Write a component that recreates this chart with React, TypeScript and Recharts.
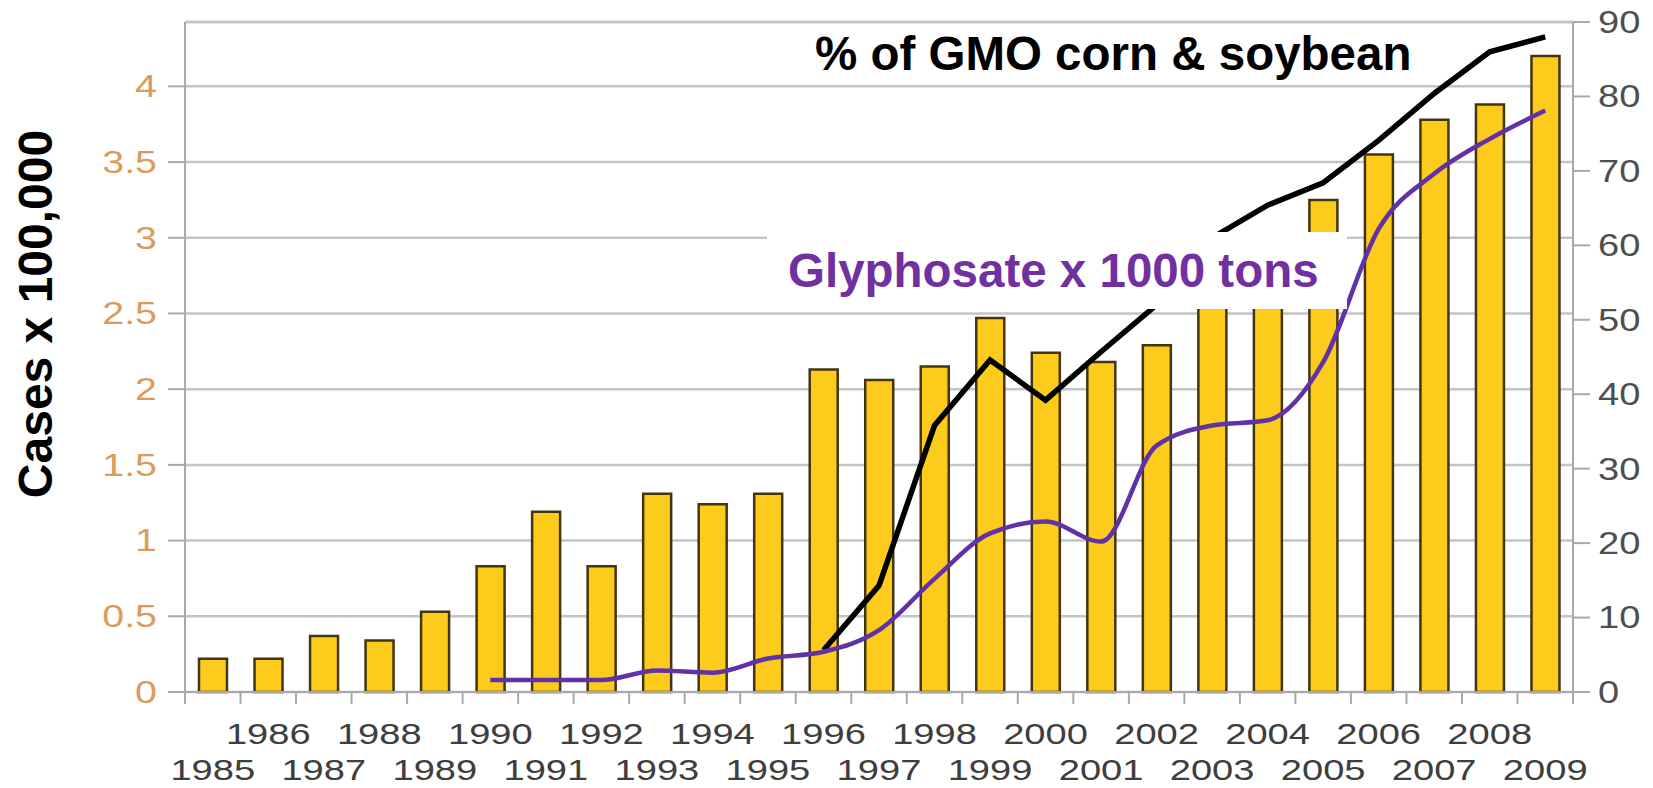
import React from 'react';
import {
  ComposedChart,
  Bar,
  Line,
  XAxis,
  YAxis,
  CartesianGrid,
  ReferenceLine,
} from 'recharts';

// ── Data ────────────────────────────────────────────────────
const YEARS = [
  1985, 1986, 1987, 1988, 1989, 1990, 1991, 1992, 1993, 1994, 1995, 1996, 1997,
  1998, 1999, 2000, 2001, 2002, 2003, 2004, 2005, 2006, 2007, 2008, 2009,
];

// cases x 100,000 (left axis)
const CASES = [
  0.22, 0.22, 0.37, 0.34, 0.53, 0.83, 1.19, 0.83, 1.31, 1.24, 1.31, 2.13, 2.06,
  2.15, 2.47, 2.24, 2.18, 2.29, 2.75, 2.85, 3.25, 3.55, 3.78, 3.88, 4.2,
];

// % of GMO corn & soybean (right axis)
const GMO = [
  null, null, null, null, null, null, null, null, null, null, null,
  5.6, 14.3, 35.8, 44.6, 39.2, 45.7, 52, 61, 65.4, 68.4, 74.1, 80.4, 86, 88,
];

// glyphosate x 1000 tons (right axis)
const GLYPHOSATE = [
  null, null, null, null, null,
  1.6, 1.6, 1.6, 2.9, 2.6, 4.5, 5.4, 8.3, 15.2, 21.3, 22.9, 20.2, 33.1, 35.8,
  36.5, 44.3, 62.2, 69.6, 74.3, 78.1,
];

const LEFT_TICKS = [0, 0.5, 1, 1.5, 2, 2.5, 3, 3.5, 4];
const RIGHT_TICKS = [0, 10, 20, 30, 40, 50, 60, 70, 80, 90];
const LEFT_MAX = 4.425;

const data = YEARS.map((year, i) => ({
  year: String(year),
  cases: CASES[i],
  gmo: GMO[i],
  glyphosate: GLYPHOSATE[i],
}));

// ── Layout ──────────────────────────────────────────────────
const W = 1653;
const H = 788;
const TOP = 22;
const LEFT_W = 185;
const RIGHT_W = 80;
const X_H = 96;
const PLOT_BOTTOM = H - X_H;
const BAND = (W - LEFT_W - RIGHT_W) / YEARS.length;
const FONT = '"Liberation Sans", Arial, sans-serif';
const STRETCH = 1.27; // source picture is stretched horizontally
const AXIS_GRAY = '#a9a9a9';
const GRID_GRAY = '#c4c4c4';

// rough Arial advance widths, for textLength
function textWidth(s: string, size: number) {
  let w = 0;
  for (const ch of s) w += ch === '.' ? 0.278 : 0.556;
  return w * size * STRETCH;
}

function YearTick(props: any) {
  const { x, payload } = props;
  const idx = YEARS.indexOf(Number(payload.value));
  const top = idx % 2 === 1;
  const label = String(payload.value);
  return (
    <g>
      <line x1={x - BAND / 2} x2={x - BAND / 2} y1={PLOT_BOTTOM} y2={PLOT_BOTTOM + 12} stroke={AXIS_GRAY} strokeWidth={2} />
      {idx === YEARS.length - 1 && (
        <line x1={x + BAND / 2} x2={x + BAND / 2} y1={PLOT_BOTTOM} y2={PLOT_BOTTOM + 12} stroke={AXIS_GRAY} strokeWidth={2} />
      )}
      <text
        x={x}
        y={top ? 744 : 780}
        textAnchor="middle"
        fontFamily={FONT}
        fontSize={30}
        fill="#3e3e3e"
        textLength={textWidth(label, 30)}
        lengthAdjust="spacingAndGlyphs"
      >
        {label}
      </text>
    </g>
  );
}

function LeftTick(props: any) {
  const { x, y, payload } = props;
  const label = String(payload.value);
  return (
    <text
      x={x}
      y={y}
      dy="0.35em"
      textAnchor="end"
      fontFamily={FONT}
      fontSize={31}
      fill="#d99c5c"
      textLength={textWidth(label, 31)}
      lengthAdjust="spacingAndGlyphs"
    >
      {label}
    </text>
  );
}

function RightTick(props: any) {
  const { x, y, payload } = props;
  const label = String(payload.value);
  return (
    <text
      x={x}
      y={y}
      dy="0.35em"
      textAnchor="start"
      fontFamily={FONT}
      fontSize={31}
      fill="#4e4e4e"
      textLength={textWidth(label, 30)}
      lengthAdjust="spacingAndGlyphs"
    >
      {label}
    </text>
  );
}

export default function App() {
  return (
    <div style={{ position: 'absolute', left: 0, top: 0, width: W, height: H, background: '#fff' }}>
      <ComposedChart
        width={W}
        height={H}
        data={data}
        margin={{ top: TOP, right: 0, bottom: 0, left: 0 }}
      >
        <CartesianGrid yAxisId="left" vertical={false} stroke={GRID_GRAY} strokeWidth={2.5} />
        <XAxis
          dataKey="year"
          interval={0}
          height={X_H}
          tickLine={false}
          axisLine={{ stroke: AXIS_GRAY, strokeWidth: 2 }}
          tick={<YearTick />}
        />
        <YAxis
          yAxisId="left"
          width={LEFT_W}
          domain={[0, LEFT_MAX]}
          ticks={LEFT_TICKS}
          tickSize={17}
          tickMargin={11}
          axisLine={{ stroke: AXIS_GRAY, strokeWidth: 2 }}
          tickLine={{ stroke: AXIS_GRAY, strokeWidth: 2 }}
          tick={<LeftTick />}
        />
        <YAxis
          yAxisId="right"
          orientation="right"
          width={RIGHT_W}
          domain={[0, 90]}
          ticks={RIGHT_TICKS}
          tickSize={17}
          tickMargin={8}
          axisLine={{ stroke: AXIS_GRAY, strokeWidth: 2 }}
          tickLine={{ stroke: AXIS_GRAY, strokeWidth: 2 }}
          tick={<RightTick />}
        />
        <ReferenceLine yAxisId="right" y={90} stroke={GRID_GRAY} strokeWidth={2.5} />
        <Bar
          yAxisId="left"
          dataKey="cases"
          barSize={28}
          fill="#fccb1c"
          stroke="#43350f"
          strokeWidth={2.5}
          isAnimationActive={false}
        />
        <Line
          yAxisId="right"
          dataKey="gmo"
          type="linear"
          stroke="#000000"
          strokeWidth={5.5}
          dot={false}
          isAnimationActive={false}
        />
        <Line
          yAxisId="right"
          dataKey="glyphosate"
          type="monotone"
          stroke="#6131a8"
          strokeWidth={4.5}
          dot={false}
          isAnimationActive={false}
        />
      </ComposedChart>

      {/* titles and series labels drawn over the plot */}
      <svg
        width={W}
        height={H}
        style={{ position: 'absolute', left: 0, top: 0, pointerEvents: 'none' }}
      >
        <text
          transform="translate(52,314) rotate(-90)"
          textAnchor="middle"
          fontFamily={FONT}
          fontWeight="bold"
          fontSize={48}
          fill="#000"
        >
          Cases x 100,000
        </text>
        <text x={815} y={70} fontFamily={FONT} fontWeight="bold" fontSize={47.5} fill="#000">
          % of GMO corn &amp; soybean
        </text>
        <rect x={767} y={232} width={580} height={77} fill="#ffffff" />
        <text x={788} y={287} fontFamily={FONT} fontWeight="bold" fontSize={47.5} fill="#7030a0">
          Glyphosate x 1000 tons
        </text>
      </svg>
    </div>
  );
}
